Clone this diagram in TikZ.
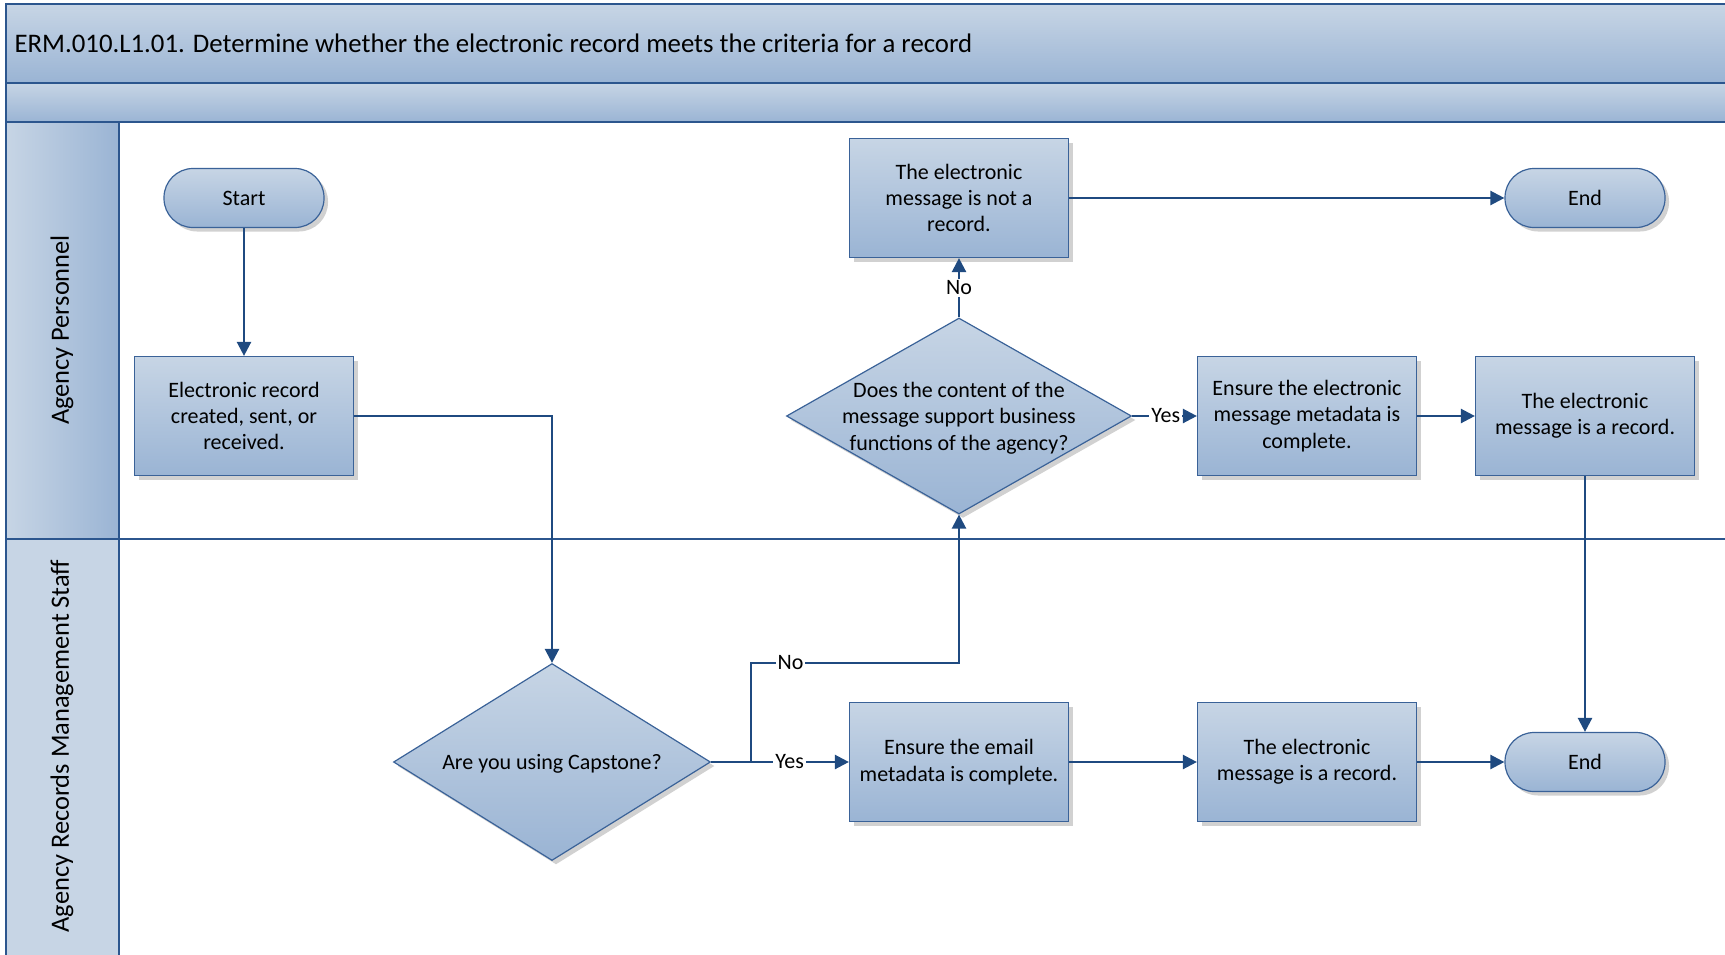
\documentclass[tikz,border=0pt]{standalone}
\usepackage{fontspec}
\setmainfont{Carlito}
\usetikzlibrary{shapes.geometric,arrows.meta,shadows}
\definecolor{boxtop}{HTML}{C7D5E5}
\definecolor{boxbot}{HTML}{9AB4D4}
\definecolor{boxline}{HTML}{3A6298}
\definecolor{flowline}{HTML}{1F4A80}
\definecolor{frameline}{HTML}{2C568E}
\tikzset{
  boxfont/.style={font=\fontsize{11}{13.2}\selectfont},
  shadowed/.style={drop shadow={shadow xshift=2pt,shadow yshift=-2pt,opacity=0.3,fill=black!60}},
  proc/.style={rectangle,draw=boxline,line width=0.6pt,top color=boxtop,bottom color=boxbot,
    minimum width=109.5pt,minimum height=59.5pt,align=center,inner sep=0pt,shadowed,boxfont},
  term/.style={rectangle,rounded corners=14.5pt,draw=boxline,line width=0.6pt,top color=boxtop,
    bottom color=boxbot,minimum width=80pt,minimum height=29.5pt,inner sep=0pt,shadowed,boxfont},
  decision/.style={diamond,draw=boxline,line width=0.6pt,top color=boxtop,bottom color=boxbot,
    inner sep=0pt,shadowed},
  flow/.style={draw=flowline,line width=1.2pt,-{Triangle[length=7pt,width=7pt]}},
  lbl/.style={fill=white,inner sep=1pt,boxfont},
  lanefont/.style={font=\fontsize{13.2}{15}\selectfont}
}

\begin{document}
\begin{tikzpicture}[x=0.5pt,y=-0.5pt]
  \useasboundingbox (0,0) rectangle (1725,954);
  \clip (0,0) rectangle (1725,954);
  % pool and lanes
  \fill[top color=boxtop,bottom color=boxbot] (5.5,4.4) rectangle (1735,82.5);
  \fill[top color=boxtop,bottom color=boxbot] (5.5,82.5) rectangle (1735,122);
  \fill[left color=boxtop,right color=boxbot] (5.5,122) rectangle (119,539);
  \fill[boxtop] (5.5,539) rectangle (119,960);
  \draw[frameline,line width=1pt] (1735,4.4) -- (5.5,4.4) -- (5.5,960);
  \draw[frameline,line width=1pt] (5.5,82.5) -- (1735,82.5);
  \draw[frameline,line width=1pt] (5.5,122) -- (1735,122);
  \draw[frameline,line width=1pt] (5.5,539) -- (1735,539);
  \draw[frameline,line width=1pt] (119,122) -- (119,960);
  \node[anchor=west,font=\fontsize{13.4}{15}\selectfont] (title) at (7.5,43) {ERM.010.L1.01. Determine whether the electronic record meets the criteria for a record};
  \node[rotate=90,lanefont] (lane1) at (62,330) {Agency Personnel};
  \node[rotate=90,lanefont] (lane2) at (62,746) {Agency Records Management Staff};

  % shapes
  \node[term] (start) at (244,198) {Start};
  \node[proc] (rec) at (244,416) {Electronic record\\created, sent, or\\received.};
  \node[decision,minimum width=158.5pt,minimum height=98.5pt,
        label={[boxfont,yshift=-1pt]center:Are you using Capstone?}] (capq) at (552,762) {};
  \node[proc] (email) at (959,762) {Ensure the email\\metadata is complete.};
  \node[proc] (msgrec2) at (1307,762) {The electronic\\message is a record.};
  \node[term] (end2) at (1585,762) {End};
  \node[decision,minimum width=172.5pt,minimum height=98pt,
        label={[boxfont,align=center,yshift=-1pt]center:Does the content of the\\message support business\\functions of the agency?}] (contq) at (959,416) {};
  \node[proc] (notrec) at (959,198) {The electronic\\message is not a\\record.};
  \node[term] (end1) at (1585,198) {End};
  \node[proc] (meta) at (1307,416) {Ensure the electronic\\message metadata is\\complete.};
  \node[proc] (msgrec1) at (1585,416) {The electronic\\message is a record.};

  \coordinate (split) at (751,762);
  \coordinate (nobend) at (751,663);

  % connectors
  \draw[flow] (start) -- (rec);
  \draw[flow] (rec.east) -| (capq.north);
  \draw[flow] (capq.east) -- node[lbl,pos=0.57] {Yes} (email.west);
  \draw[flow] (split) -- (nobend) -- node[lbl,pos=0.19] {No} (nobend -| contq.south) -- (contq.south);
  \draw[flow] (email) -- (msgrec2);
  \draw[flow] (msgrec2) -- (end2);
  \draw[flow] (contq.north) -- node[lbl] {No} (notrec.south);
  \draw[flow] (notrec) -- (end1);
  \draw[flow] (contq.east) -- node[lbl,pos=0.52] {Yes} (meta.west);
  \draw[flow] (meta) -- (msgrec1);
  \draw[flow] (msgrec1) -- (end2);
\end{tikzpicture}
\end{document}
